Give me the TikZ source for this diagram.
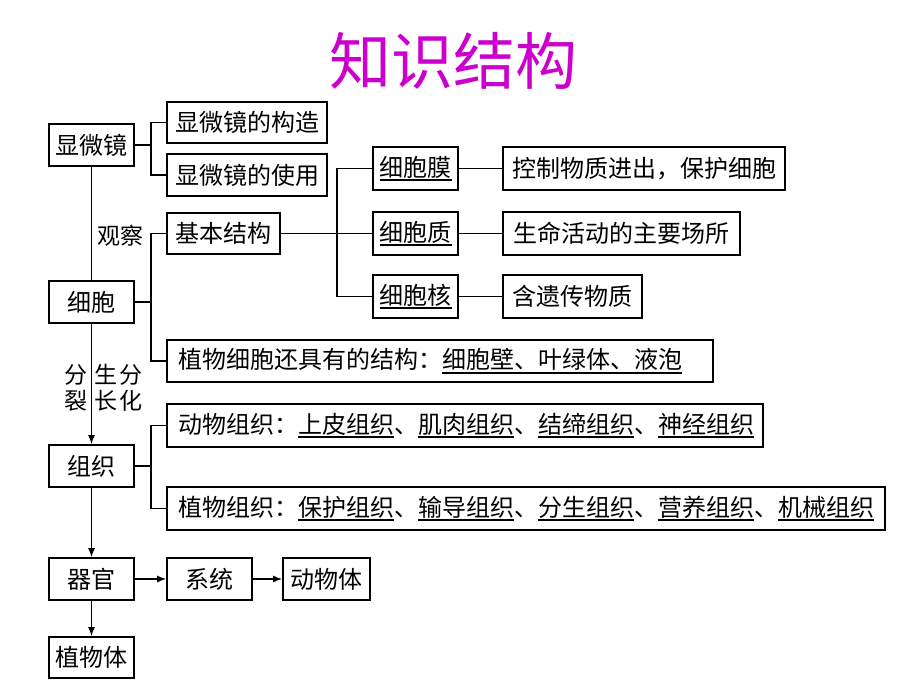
\documentclass[tikz,border=0pt]{standalone}
\usepackage{fontspec}
\newfontfamily\cjk{Noto Sans CJK SC}
\usetikzlibrary{arrows,arrows.meta}
\definecolor{titlemag}{RGB}{204,0,204}
\newcommand{\ulk}[1]{\setbox0\hbox{#1}\rlap{\rule[-5pt]{\wd0}{2pt}}\box0}

\tikzset{
  box/.style={draw, line width=1.6pt, inner sep=0pt, minimum height=42pt, font=\cjk\fontsize{24}{24}\selectfont},
  longbox/.style={box, inner xsep=11pt, text width=#1, align=left},
  lbl/.style={font=\cjk\fontsize{23}{26}\selectfont, align=center, inner sep=0pt},
  conn/.style={line width=1.5pt},
  arr/.style={line width=1.5pt, -{Latex[length=9pt,width=7pt]}}
}

\begin{document}
\begin{tikzpicture}[x=1pt,y=-1pt]
\useasboundingbox (0,0) rectangle (920,690);
% title
\node[font=\cjk\fontsize{62}{62}\selectfont, text=titlemag] (title) at (453,61) {知识结构};

% nodes
\node[box, minimum width=85pt] (xwj) at (91.5,145) {显微镜};
\node[box, minimum width=160pt, minimum height=41pt] (gouzao) at (247,122.5) {显微镜的构造};
\node[box, minimum width=160pt] (shiyong) at (247,175) {显微镜的使用};

\node[box, minimum width=113pt, minimum height=41pt] (jbjg) at (223.5,233.5) {基本结构};
\node[box, minimum width=85pt, minimum height=43pt] (xbm) at (415.5,168.5) {\ulk{细胞膜}};
\node[box, minimum width=85pt, minimum height=43pt] (xbz) at (415.5,233.5) {\ulk{细胞质}};
\node[box, minimum width=85pt, minimum height=43pt] (xbh) at (415.5,296.5) {\ulk{细胞核}};
\node[box, minimum width=282pt, minimum height=43pt] (gn1) at (644,168.5) {控制物质进出，保护细胞};
\node[box, minimum width=237pt, minimum height=43pt] (gn2) at (621.5,233.5) {生命活动的主要场所};
\node[box, minimum width=139pt, minimum height=43pt] (gn3) at (572.5,296.5) {含遗传物质};

\node[box, minimum width=85pt] (xb) at (91.5,302) {细胞};
\node[longbox=524pt] (zwxb) at (440,361) {植物细胞还具有的结构：\ulk{细胞壁、叶绿体、液泡}};

\node[box, minimum width=85pt] (zz) at (91.5,466) {组织};
\node[longbox=574pt, minimum height=43pt] (dwzz) at (465,425.5)
  {动物组织：\ulk{上皮组织}、\ulk{肌肉组织}、\ulk{结缔组织}、\ulk{神经组织}};
\node[longbox=696pt, minimum height=43pt] (zwzz) at (526,508.5)
  {植物组织：\ulk{保护组织}、\ulk{输导组织}、\ulk{分生组织}、\ulk{营养组织}、\ulk{机械组织}};

\node[box, minimum width=85pt] (qg) at (91.5,579) {器官};
\node[box, minimum width=85pt] (xt) at (209.5,579) {系统};
\node[box, minimum width=87pt] (dwt) at (326.5,579) {动物体};
\node[box, minimum width=85pt, minimum height=41pt] (zwt) at (91.5,657.5) {植物体};

% labels
\node[lbl] (guancha) at (120,236) {观察};
\node[lbl] (fenlie) at (76,388) {分\\裂};
\node[lbl] (shengzhang) at (106,388) {生\\长};
\node[lbl] (fenhua) at (131,388) {分\\化};

% connectors
\draw[conn] (xwj.east) -- ++(16,0) |- (gouzao.west);
\draw[conn] (xwj.east) -- ++(16,0) |- (shiyong.west);
\draw[conn] (xb.east) -- ++(16,0) |- (jbjg.west);
\draw[conn] (xb.east) -- ++(16,0) |- (zwxb.west);
\draw[conn] (jbjg.east) -- (xbz.west);
\draw[conn] (xbm.west) -- ++(-35,0) |- (xbh.west);
\draw[conn] (xbm) -- (gn1);
\draw[conn] (xbz) -- (gn2);
\draw[conn] (xbh) -- (gn3);
\draw[conn] (zz.east) -- ++(16,0) |- (dwzz.west);
\draw[conn] (zz.east) -- ++(16,0) |- (zwzz.west);

\draw[conn] (xwj) -- (xb);
\draw[arr] (xb) -- (zz);
\draw[arr] (zz) -- (qg);
\draw[arr] (qg) -- (zwt);
\draw[arr] (qg) -- (xt);
\draw[arr] (xt) -- (dwt);

\end{tikzpicture}
\end{document}
